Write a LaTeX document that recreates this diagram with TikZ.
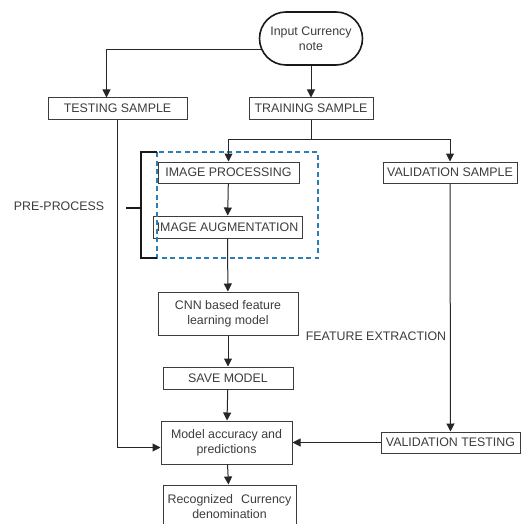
\documentclass[tikz,border=0pt]{standalone}
\usepackage{fontspec}
\setmainfont{Liberation Sans}
\usetikzlibrary{arrows.meta,shapes.misc}
\definecolor{ink}{HTML}{3C3C3C}
\definecolor{dashblue}{HTML}{2A7DB5}

\begin{document}
\begin{tikzpicture}[x=1pt, y=-1pt,
    every node/.style={font=\fontsize{12.4}{15}\selectfont, text=ink},
    box/.style={draw=ink, line width=1pt, inner sep=0pt, align=center},
    arw/.style={draw=black!85, line width=1pt, -{Triangle[width=8pt,length=8pt]}},
    conn/.style={draw=black!85, line width=1pt}]
      \useasboundingbox (0,0) rectangle (521,524);
      % flow boxes
      \node[rounded rectangle, draw=black!90, line width=1.6pt, minimum width=103pt, minimum height=53pt, inner sep=0pt, align=center] (input) at (311,38.5) {Input Currency\\note};
      \node[box, minimum width=139pt, minimum height=21pt] (testing) at (117.5,108.5) {TESTING SAMPLE};
      \node[box, minimum width=124pt, minimum height=21pt] (training) at (311,108.5) {TRAINING SAMPLE};
      \node[box, minimum width=141pt, minimum height=21pt] (imgproc) at (228.5,172.5) {IMAGE PROCESSING};
      \node[box, minimum width=149pt, minimum height=22pt] (imgaug) at (227.5,227) {IMAGE AUGMENTATION};
      \node[box, minimum width=134pt, minimum height=21pt] (valsample) at (450,172.5) {VALIDATION SAMPLE};
      \node[box, minimum width=140pt, minimum height=43pt] (cnn) at (228,313.5) {CNN based feature\\learning model};
      \node[box, minimum width=130pt, minimum height=22pt] (save) at (228,378) {SAVE MODEL};
      \node[box, minimum width=131pt, minimum height=43pt] (acc) at (226.5,442.5) {Model accuracy and\\predictions};
      \node[box, minimum width=139pt, minimum height=21pt] (valtest) at (450.5,442.5) {VALIDATION TESTING};
      \node[box, minimum width=133pt, minimum height=43pt] (recog) at (229.5,506.5) {Recognized\hspace{8pt}Currency\\denomination};
      % free labels
      \node (preproc) at (59,206) {PRE-PROCESS};
      \node (featext) at (376,336) {FEATURE EXTRACTION};
      % pre-process group
      \draw[dashblue, line width=1.5pt, dash pattern=on 5pt off 3.5pt] (157,152) rectangle (318,258);
      \draw[black!90, line width=1.6pt] (157,152) -- (141,152) -- (141,258) -- (157,258);
      \draw[black!90, line width=1.6pt] (141,208) -- (126,208);
      % connectors
      \coordinate (split) at (311,139);
      \draw[arw] (input.192) -| ([xshift=-11pt]testing.north);
      \draw[arw] (input) -- (training);
      \draw[conn] (training.south) -- (split);
      \draw[arw] (split) -| (imgproc.north);
      \draw[arw] (split) -| (valsample.north);
      \draw[arw] (imgproc) -- (imgaug);
      \draw[arw] (imgaug) -- (cnn);
      \draw[arw] (cnn) -- (save);
      \draw[arw] (save) -- (acc);
      \draw[arw] (acc) -- (recog);
      \draw[arw] (testing.south) |- ([yshift=-5pt]acc.west);
      \draw[arw] (valsample) -- (valtest);
      \draw[arw] (valtest) -- (acc);
\end{tikzpicture}
\end{document}
